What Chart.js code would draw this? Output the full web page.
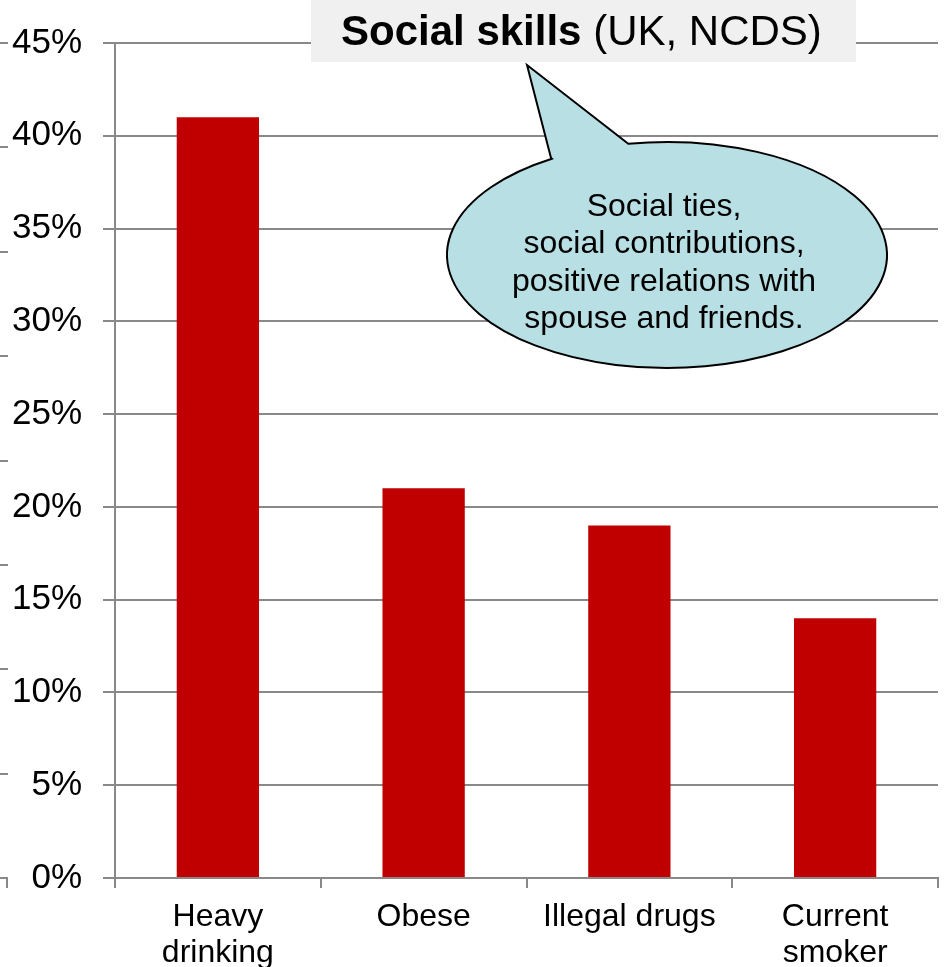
<!DOCTYPE html>
<html>
<head>
<meta charset="utf-8">
<title>Social skills (UK, NCDS)</title>
<script src="https://cdn.jsdelivr.net/npm/chart.js@4/dist/chart.umd.min.js"></script>
<style>
    html, body { margin: 0; padding: 0; background: #fff; }
    #wrap { width: 949px; height: 967px; }
</style>
</head>
<body>
<div id="wrap"><canvas id="skills_chart" width="949" height="967"></canvas></div>
<script>
// categories and shares (percent)
var categories = [['Heavy', 'drinking'], 'Obese', 'Illegal drugs', ['Current', 'smoker']];
var shares = [41, 21, 19, 14];
var yMax = 45;
var yStep = 5;

var titleBold = 'Social skills';
var titleRest = ' (UK, NCDS)';
var bubbleLines = ['Social ties,', 'social contributions,', 'positive relations with', 'spouse and friends.'];

var fontFamily = '"Liberation Sans", Arial, sans-serif';
var gridColor = '#898989';

// title box + speech bubble on top of the plot
var overlayPlugin = {
    id: 'overlay',
    afterDraw: function (chart) {
        var ctx = chart.ctx;
        var area = chart.chartArea;
        ctx.save();

        // cut-off ticks of the neighbouring axis at the left edge
        ctx.strokeStyle = gridColor;
        ctx.lineWidth = 2;
        var step = (area.bottom - area.top) / 8;
        for (var i = 0; i <= 8; i++) {
            var y = Math.round(area.top + i * step);
            ctx.beginPath();
            ctx.moveTo(0, y);
            ctx.lineTo(8, y);
            ctx.stroke();
        }
        ctx.beginPath();
        ctx.moveTo(7, area.bottom);
        ctx.lineTo(7, area.bottom + 10);
        ctx.stroke();

        // title box
        ctx.fillStyle = '#f0f0f0';
        ctx.fillRect(311, 0, 545, 62);
        ctx.fillStyle = '#000';
        ctx.textBaseline = 'alphabetic';
        ctx.textAlign = 'left';
        ctx.font = 'bold 42px ' + fontFamily;
        ctx.fillText(titleBold, 341, 45);
        var w = ctx.measureText(titleBold).width;
        ctx.font = '42px ' + fontFamily;
        ctx.fillText(titleRest, 341 + w, 45);

        // speech bubble
        var cx = 667, cy = 255, rx = 220, ry = 113;
        var tip = [527, 65], baseL = [551, 158], baseR = [628, 143];
        var t1 = Math.atan2((baseL[1] - cy) / ry, (baseL[0] - cx) / rx);
        var t2 = Math.atan2((baseR[1] - cy) / ry, (baseR[0] - cx) / rx);
        ctx.beginPath();
        ctx.moveTo(tip[0], tip[1]);
        ctx.lineTo(baseL[0], baseL[1]);
        ctx.ellipse(cx, cy, rx, ry, 0, t1, t2, true);
        ctx.closePath();
        ctx.fillStyle = '#b8dfe3';
        ctx.fill();
        ctx.strokeStyle = '#000';
        ctx.lineWidth = 2;
        ctx.stroke();

        ctx.fillStyle = '#000';
        ctx.font = '32px ' + fontFamily;
        ctx.textAlign = 'center';
        ctx.textBaseline = 'middle';
        bubbleLines.forEach(function (line, idx) {
            ctx.fillText(line, 664, 207 + idx * 37.5);
        });
        ctx.restore();
    }
};

new Chart(document.getElementById('skills_chart').getContext('2d'), {
    type: 'bar',
    data: {
        labels: categories,
        datasets: [{
            data: shares,
            backgroundColor: '#c00000',
            borderWidth: 0,
            barPercentage: 0.4,
            categoryPercentage: 1
        }]
    },
    options: {
        responsive: false,
        animation: false,
        layout: { padding: { top: 43, right: 11, left: 0, bottom: 0 } },
        plugins: {
            legend: { display: false },
            tooltip: { enabled: false },
            title: { display: false }
        },
        scales: {
            x: {
                offset: true,
                grid: {
                    offset: true,
                    drawOnChartArea: false,
                    color: gridColor,
                    lineWidth: 2,
                    tickLength: 10
                },
                border: { display: true, color: gridColor, width: 2 },
                ticks: {
                    color: '#000',
                    font: { family: fontFamily, size: 32, lineHeight: 1.1 },
                    padding: 12,
                    maxRotation: 0,
                    autoSkip: false
                },
                afterFit: function (scale) { scale.height = 89; }
            },
            y: {
                min: 0,
                max: yMax,
                grid: {
                    color: gridColor,
                    lineWidth: 2,
                    tickLength: 12
                },
                border: { display: true, color: gridColor, width: 2 },
                ticks: {
                    stepSize: yStep,
                    color: '#000',
                    font: { family: fontFamily, size: 35 },
                    padding: 21,
                    callback: function (v) { return v + '%'; }
                },
                afterFit: function (scale) { scale.width = 115; }
            }
        }
    },
    plugins: [overlayPlugin]
});
</script>
</body>
</html>
